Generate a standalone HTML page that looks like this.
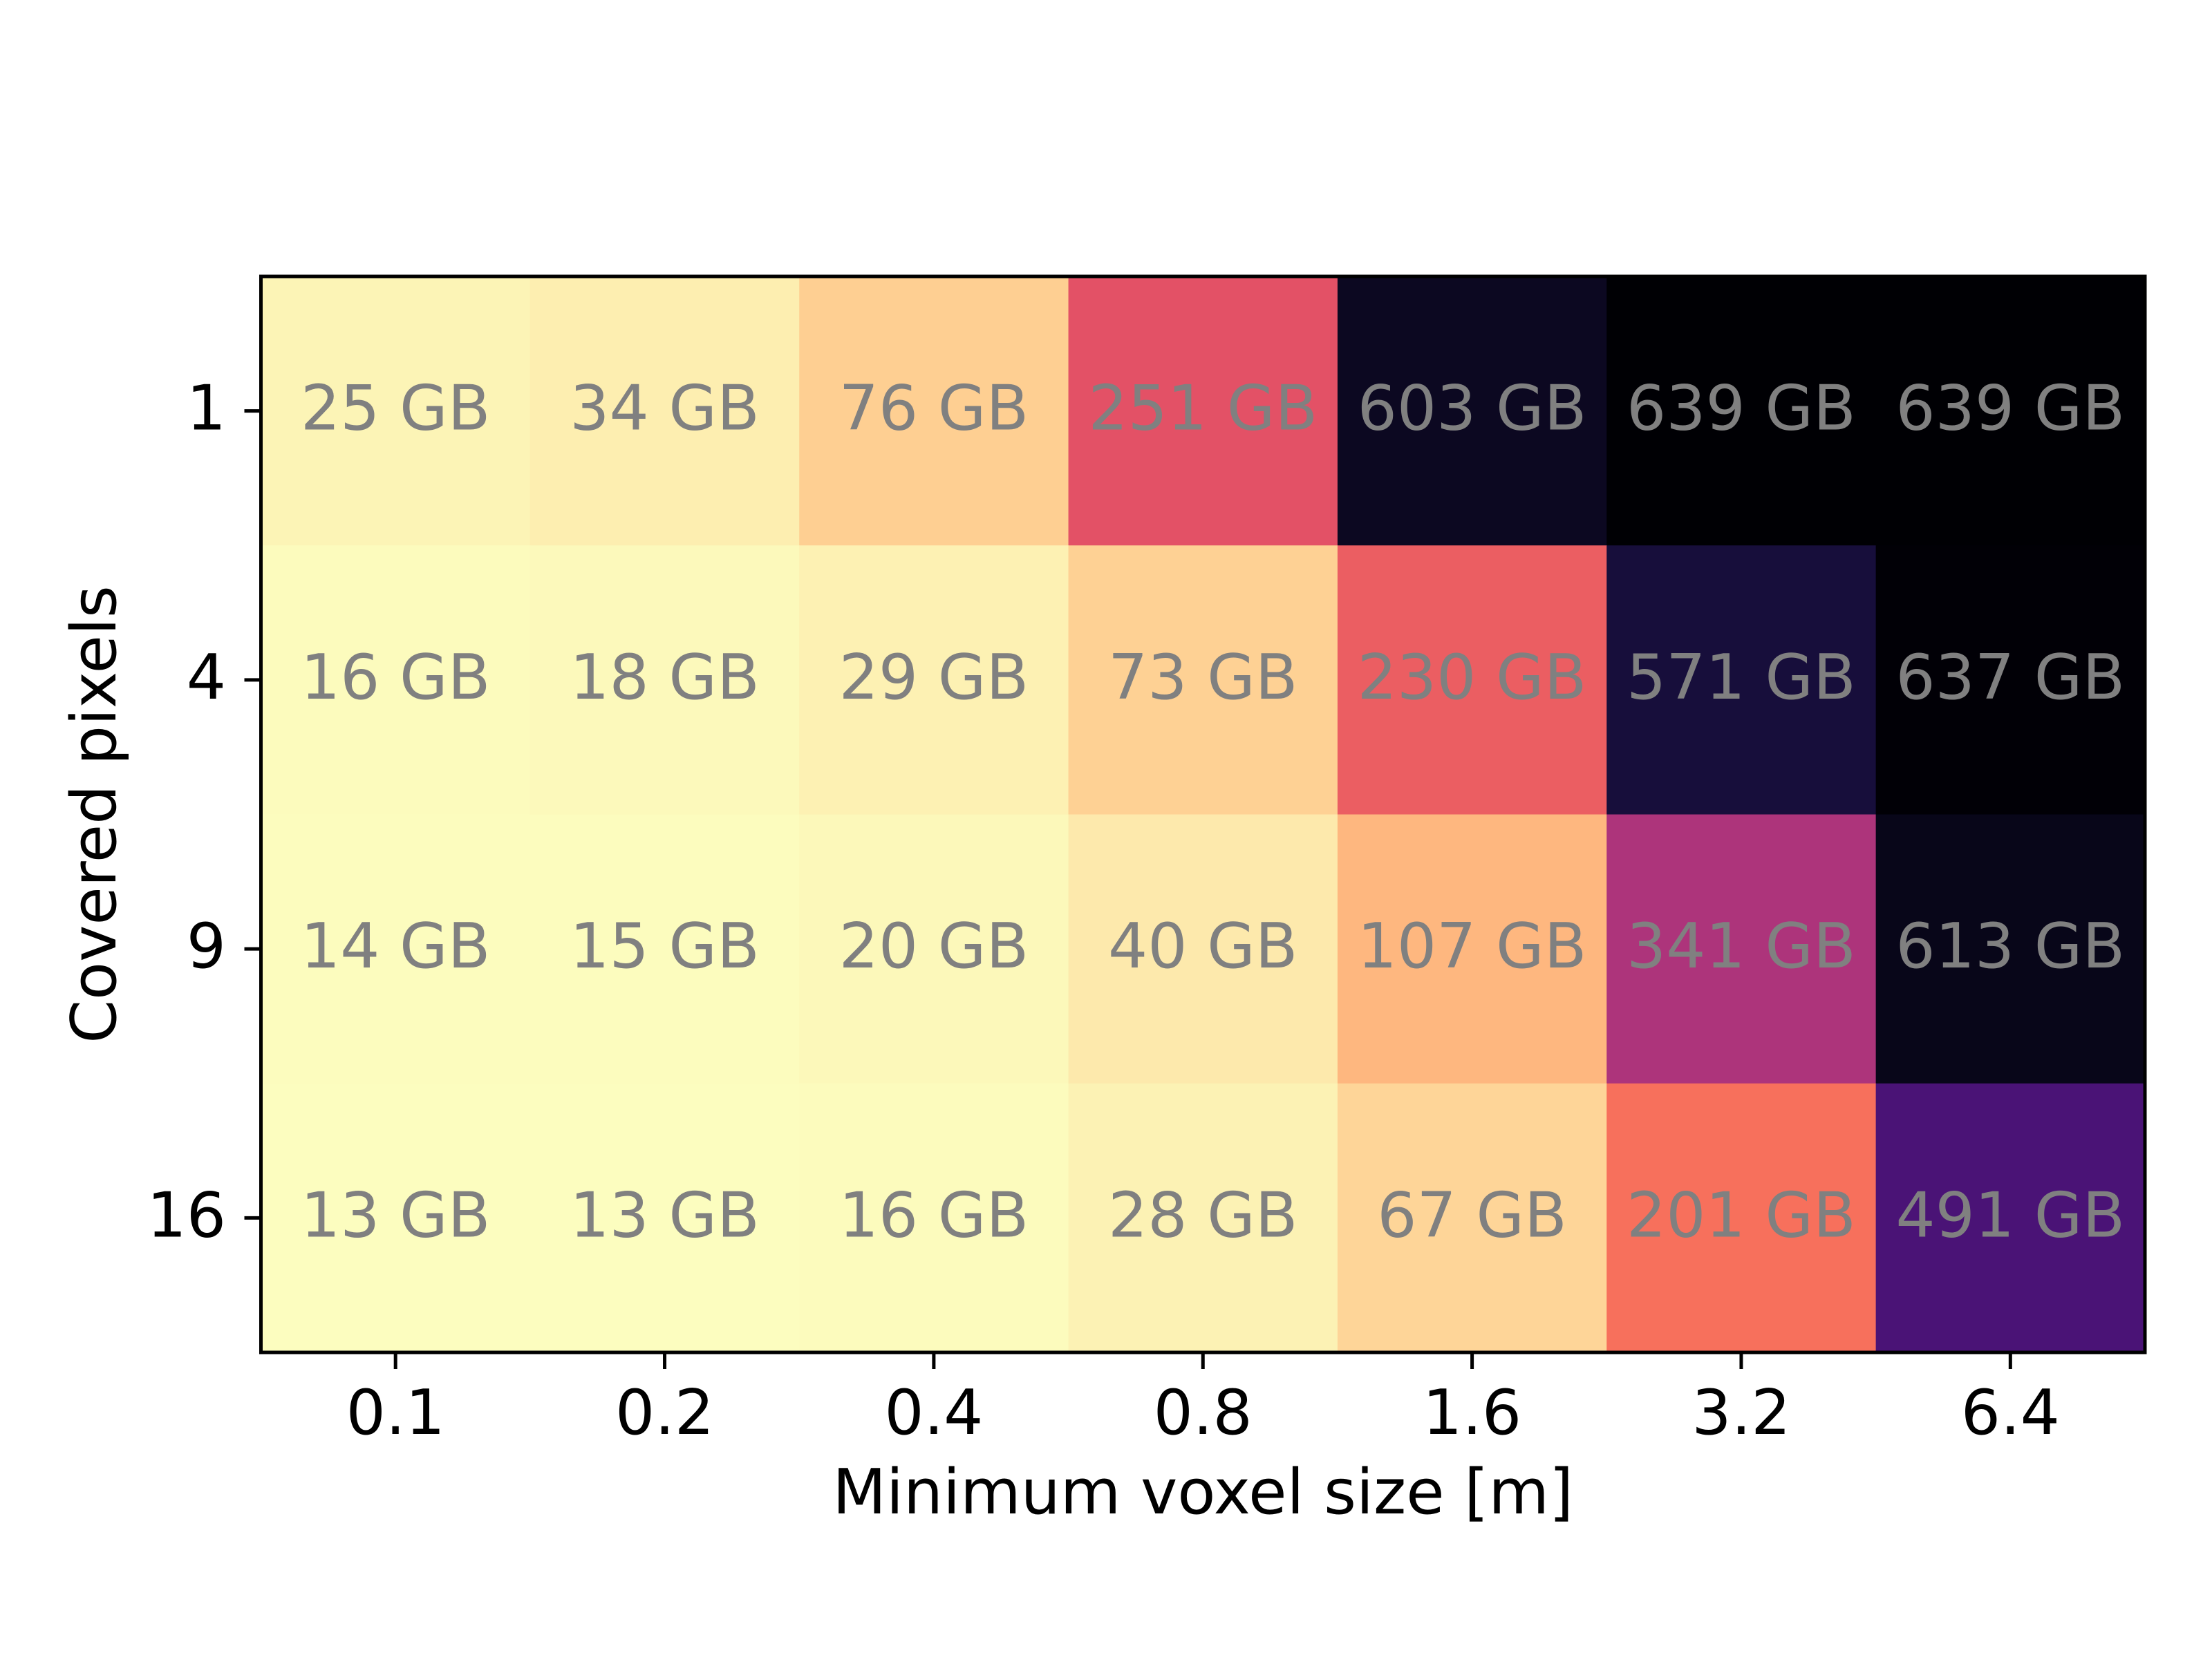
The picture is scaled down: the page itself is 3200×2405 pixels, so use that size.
<!DOCTYPE html>
<html><head><meta charset="utf-8"><style>
html,body{margin:0;padding:0;background:#fff;}
svg text{font-family:"DejaVu Sans","Liberation Sans",sans-serif;}
</style></head><body>
<svg id="chart" width="3200" height="2400" viewBox="0 0 3200 2400" xmlns="http://www.w3.org/2000/svg">
<rect width="3200" height="2400" fill="#fff"/>
<g id="cells"></g>
<g id="labels"></g>
<g id="axes"></g>
</svg>
<script>
const xCategories = ["0.1","0.2","0.4","0.8","1.6","3.2","6.4"];
const yCategories = ["1","4","9","16"];
const row1 = [25,34,76,251,603,639,639];
const row4 = [16,18,29,73,230,571,637];
const row9 = [14,15,20,40,107,341,613];
const row16 = [13,13,16,28,67,201,491];
const values = [row1,row4,row9,row16];
const xTitle = "Minimum voxel size [m]";
const yTitle = "Covered pixels";

const L=377.5, R=3103, T=400, B=1957;
const cw=(R-L)/xCategories.length, ch=(B-T)/yCategories.length;
function xPos(i){return L+i*cw;}
function yPos(j){return T+j*ch;}
const all=values.flat();
const vmin=Math.min(...all), vmax=Math.max(...all);
const magma=["#000004","#140e36","#3b0f70","#641a80","#8c2981","#b73779","#de4968","#f7705c","#fe9f6d","#fecf92","#fcfdbf"];
function hex(h){return [1,3,5].map(k=>parseInt(h.substr(k,2),16));}
function color(v){
  let t=1-(v-vmin)/(vmax-vmin); t=Math.max(0,Math.min(1,t));
  const p=t*10, i=Math.min(9,Math.floor(p)), f=p-i;
  const a=hex(magma[i]), b=hex(magma[i+1]);
  return "rgb("+a.map((c,k)=>Math.round(c+(b[k]-c)*f)).join(",")+")";
}
const NS="http://www.w3.org/2000/svg";
function el(tag,attrs,parent,txt){const e=document.createElementNS(NS,tag);for(const k in attrs)e.setAttribute(k,attrs[k]);if(txt!==undefined)e.textContent=txt;parent.appendChild(e);return e;}
const gc=document.getElementById('cells'), gl=document.getElementById('labels'), ga=document.getElementById('axes');
values.forEach((row,j)=>row.forEach((v,i)=>{
  const r=el('rect',{x:xPos(i),y:yPos(j),width:cw+0.5,height:ch+0.5,fill:color(v)},gc);
  
  
  const t=el('text',{x:xPos(i)+cw/2,y:yPos(j)+ch/2+27,'text-anchor':'middle','font-size':90,fill:'#808080'},gl,v+" GB");
  
  
}));
const frame=el('rect',{x:L,y:T,width:R-L,height:B-T,fill:'none',stroke:'#000','stroke-width':5},ga);


xCategories.forEach((c,i)=>{
  const x=xPos(i)+cw/2;
  const tk=el('line',{x1:x,y1:B,x2:x,y2:B+24,stroke:'#000','stroke-width':5},ga);
  
  
  const t=el('text',{x:x,y:2075,'text-anchor':'middle','font-size':90,fill:'#000'},ga,c);
  
  
});
yCategories.forEach((c,j)=>{
  const y=yPos(j)+ch/2;
  const tk=el('line',{x1:L-24,y1:y,x2:L,y2:y,stroke:'#000','stroke-width':5},ga);
  
  
  const t=el('text',{x:327,y:y+27,'text-anchor':'end','font-size':90,fill:'#000'},ga,c);
  
  
});
const xt=el('text',{x:(L+R)/2,y:2190,'text-anchor':'middle','font-size':90,fill:'#000'},ga,xTitle);


const yt=el('text',{x:0,y:0,'text-anchor':'middle','font-size':90,fill:'#000',transform:'translate(167,'+((T+B)/2)+') rotate(-90)'},ga,yTitle);


</script>
</body></html>
